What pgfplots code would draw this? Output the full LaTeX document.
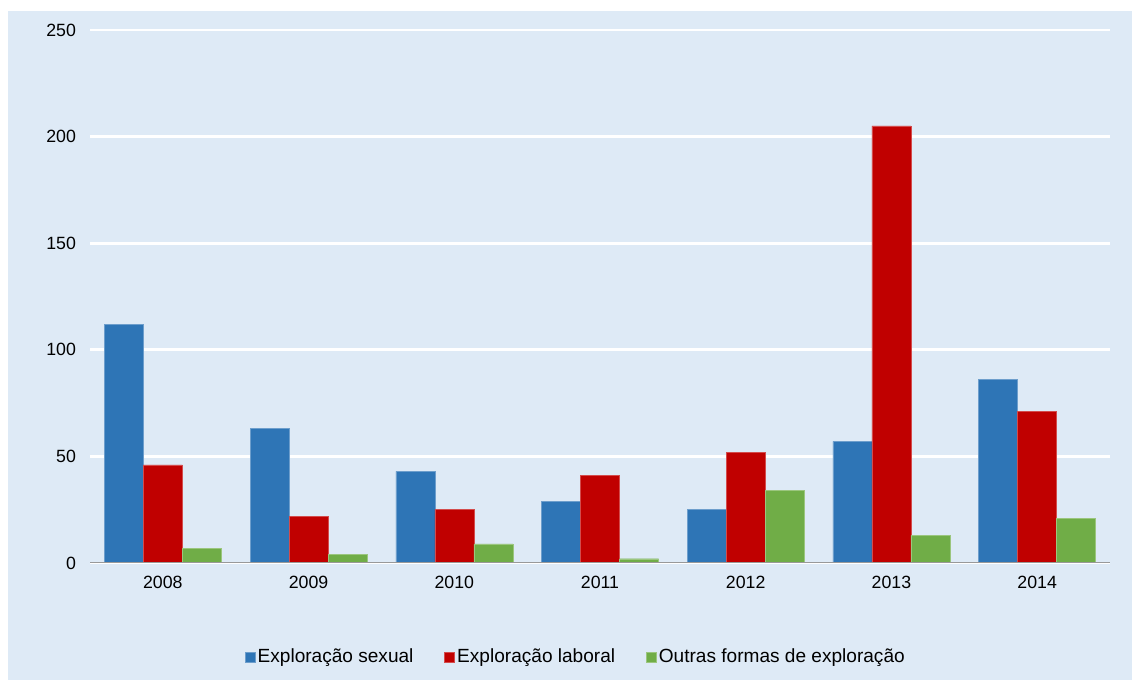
\documentclass[border=0pt]{standalone}
\usepackage{pgfplots}
\pgfplotsset{compat=1.18}
\usepackage{fontspec}
\setmainfont{Liberation Sans}
\definecolor{bgblue}{HTML}{DEEAF6}
\definecolor{cblue}{HTML}{2E75B6}
\definecolor{cred}{HTML}{C00000}
\definecolor{cgreen}{HTML}{70AD47}
\begin{document}
\begin{tikzpicture}
\fill[white] (-67.5pt,-90.75pt) rectangle (781.5pt,422.25pt);
\fill[bgblue] (-61.5pt,-87.75pt) rectangle (781.5pt,414pt);
\begin{axis}[
  at={(0pt,0pt)}, anchor=south west,
  scale only axis,
  width=765pt, height=399.75pt,
  xmin=-0.5, xmax=6.5,
  ymin=0, ymax=250,
  ybar=0pt, bar width=29.25pt,
  xtick=data,
  xticklabels={2008,2009,2010,2011,2012,2013,2014},
  ytick={0,50,100,150,200,250},
  ymajorgrids,
  grid style={white, line width=2.2pt},
  axis line style={draw=none},
  major tick length=0pt,
  tick label style={font=\fontsize{13.3}{15}\selectfont, /pgf/number format/assume math mode=true},
  yticklabel style={xshift=-7pt},
  xticklabel style={yshift=-6pt},
  axis background/.style={fill=none},
  legend style={draw=none, fill=none, at={(0.4765,-0.176)}, anchor=center,
    font=\fontsize{14.3}{16}\selectfont, legend columns=3,
    /tikz/every even column/.append style={column sep=21pt}},
  legend image code/.code={\fill[#1] (0pt,-3.8pt) rectangle (7.5pt,3.8pt);},
  legend cell align=left,
]
\addplot[fill=cblue, draw=cblue!70!white, line width=0.3pt] coordinates {(0,112) (1,63) (2,43) (3,29) (4,25) (5,57) (6,86)};
\addlegendentry{Exploração sexual}
\addplot[fill=cred, draw=cred!70!white, line width=0.3pt] coordinates {(0,46) (1,22) (2,25) (3,41) (4,52) (5,205) (6,71)};
\addlegendentry{Exploração laboral}
\addplot[fill=cgreen, draw=cgreen!70!white, line width=0.3pt] coordinates {(0,7) (1,4) (2,9) (3,2) (4,34) (5,13) (6,21)};
\addlegendentry{Outras formas de exploração}
\draw[color=gray!80, line width=1pt] (axis cs:-0.5,0) -- (axis cs:6.5,0);
\end{axis}
\pgfresetboundingbox
\useasboundingbox (-67.5pt,-90.75pt) rectangle (781.5pt,422.25pt);
\end{tikzpicture}
\end{document}
